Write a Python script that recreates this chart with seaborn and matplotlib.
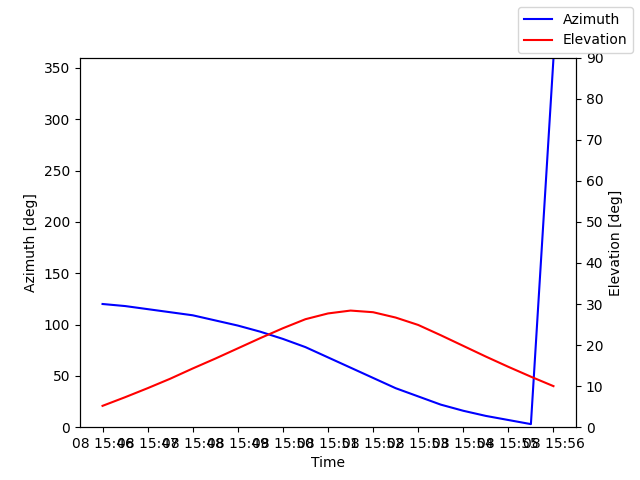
import numpy as np
import pandas as pd
import matplotlib
matplotlib.use("Agg")
import matplotlib.pyplot as plt
import matplotlib.dates as mdates
import seaborn as sns

# pass samples every 30 s
times = pd.date_range("2024-01-08 15:46:00", "2024-01-08 15:56:00", freq="30s")
azimuth = [120, 118, 115, 112, 109, 104, 99, 93, 86, 78, 68, 58, 48, 38, 30, 22, 16, 11, 7, 3, 359]
elevation = [5.2, 7.3, 9.5, 11.8, 14.3, 16.7, 19.2, 21.7, 24.1, 26.3, 27.7, 28.4, 28.0, 26.7, 24.9, 22.4, 19.8, 17.2, 14.7, 12.3, 10.0]

df = pd.DataFrame({"Time": times, "Azimuth": azimuth, "Elevation": elevation})

fig, ax1 = plt.subplots(figsize=(6.4, 4.8), dpi=100)
ax2 = ax1.twinx()

sns.lineplot(data=df, x="Time", y="Azimuth", ax=ax1, color="blue", label="Azimuth", legend=False)
sns.lineplot(data=df, x="Time", y="Elevation", ax=ax2, color="red", label="Elevation", legend=False)

ax1.set_ylim(0, 360)
ax2.set_ylim(0, 90)
ax1.xaxis.set_major_locator(mdates.MinuteLocator())
ax1.xaxis.set_major_formatter(mdates.DateFormatter("%d %H:%M"))
ax1.set_xlabel("Time")
ax1.set_ylabel("Azimuth [deg]")
ax2.set_ylabel("Elevation [deg]")

fig.legend(loc="upper right")
fig.savefig("out.png")
